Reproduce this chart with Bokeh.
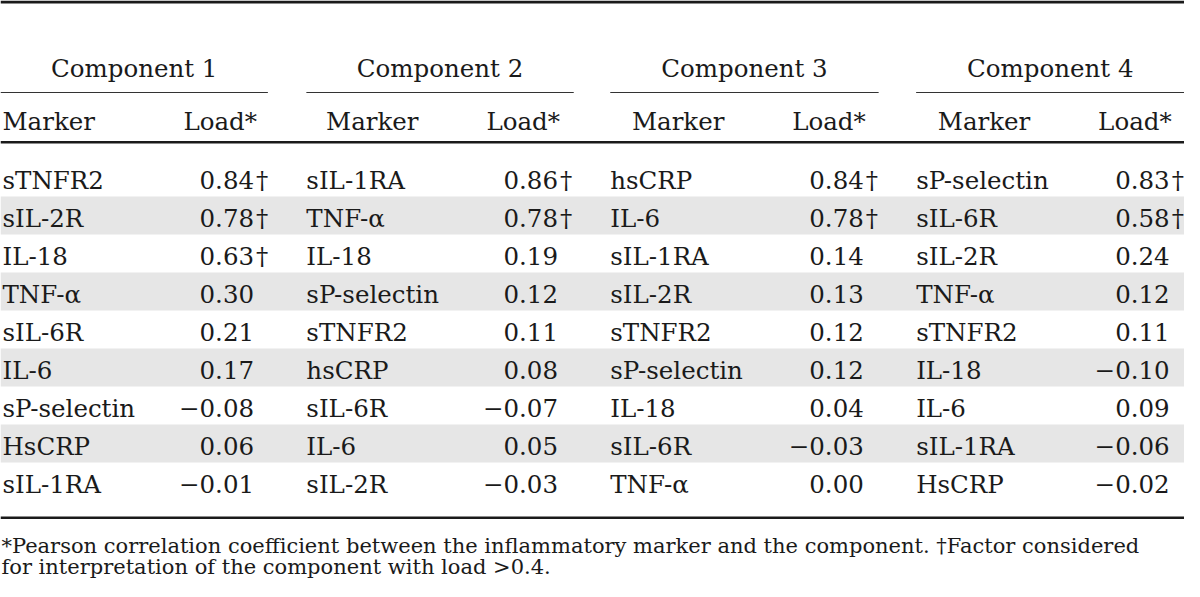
from bokeh.plotting import figure
from bokeh.models import Range1d, ColumnDataSource
from bokeh.core.properties import value
from bokeh.embed import file_html
from bokeh.resources import INLINE

# ---------------- data ----------------
components = ["Component 1", "Component 2", "Component 3", "Component 4"]
col_headers = ["Marker", "Load*"]

markers_1 = ["sTNFR2", "sIL-2R", "IL-18", "TNF-α", "sIL-6R", "IL-6", "sP-selectin", "HsCRP", "sIL-1RA"]
loads_1 = [0.84, 0.78, 0.63, 0.30, 0.21, 0.17, -0.08, 0.06, -0.01]
flag_1 = [True, True, True, False, False, False, False, False, False]

markers_2 = ["sIL-1RA", "TNF-α", "IL-18", "sP-selectin", "sTNFR2", "hsCRP", "sIL-6R", "IL-6", "sIL-2R"]
loads_2 = [0.86, 0.78, 0.19, 0.12, 0.11, 0.08, -0.07, 0.05, -0.03]
flag_2 = [True, True, False, False, False, False, False, False, False]

markers_3 = ["hsCRP", "IL-6", "sIL-1RA", "sIL-2R", "sTNFR2", "sP-selectin", "IL-18", "sIL-6R", "TNF-α"]
loads_3 = [0.84, 0.78, 0.14, 0.13, 0.12, 0.12, 0.04, -0.03, 0.00]
flag_3 = [True, True, False, False, False, False, False, False, False]

markers_4 = ["sP-selectin", "sIL-6R", "sIL-2R", "TNF-α", "sTNFR2", "IL-18", "IL-6", "sIL-1RA", "HsCRP"]
loads_4 = [0.83, 0.58, 0.24, 0.12, 0.11, -0.10, 0.09, -0.06, -0.02]
flag_4 = [True, True, False, False, False, False, False, False, False]

footnote_1 = "*Pearson correlation coefficient between the inflammatory marker and the component. \u2020Factor considered"
footnote_2 = "for interpretation of the component with load >0.4."

# ---------------- layout ----------------
W, H = 1200, 581
FONT = value("DejaVu Serif")
INK = "#1a1a1a"
FS = "24.5px"
FS_NOTE = "21px"

marker_x = [2, 310, 618, 928]
header_marker_x = [2, 330, 640, 950]
load_right = [257, 565, 875, 1185]
header_load_right = [260, 567, 877, 1187]
span = [(0, 271), (310, 581), (618, 890), (928, 1200)]

row_center0 = 177
pitch = 38

p = figure(width=1184, height=581, output_backend="svg", toolbar_location=None,
           x_range=Range1d(0, W), y_range=Range1d(H, 0),
           min_border=0, min_border_left=0, min_border_right=0,
           min_border_top=0, min_border_bottom=0)
p.axis.visible = False
p.grid.visible = False
p.outline_line_color = None
p.background_fill_color = "white"
p.border_fill_color = "white"

n_rows = len(markers_1)
centers = [row_center0 + pitch * i for i in range(n_rows)]

# shaded bands (even rows)
band_idx = [i for i in range(n_rows) if i % 2 == 1]
p.quad(left=[0] * len(band_idx), right=[W] * len(band_idx),
       top=[centers[i] - pitch / 2 for i in band_idx],
       bottom=[centers[i] + pitch / 2 for i in band_idx],
       fill_color="#e6e6e6", line_color=None)

# rules
p.quad(left=[0, 0, 0], right=[W, W, W], top=[0, 140.5, 516], bottom=[3, 143, 518.5],
       fill_color=INK, line_color=None)
p.segment(x0=[s[0] for s in span], x1=[s[1] for s in span], y0=[92] * 4, y1=[92] * 4,
          line_color="#333333", line_width=1.2)

# component headers
p.text(x=[(s[0] + s[1]) / 2 for s in span], y=[68] * 4, text=components,
       text_font=FONT, text_font_size=FS, text_align="center",
       text_baseline="alphabetic", text_color=INK)
# column headers
p.text(x=header_marker_x, y=[121] * 4, text=[col_headers[0]] * 4,
       text_font=FONT, text_font_size=FS, text_align="left",
       text_baseline="alphabetic", text_color=INK)
p.text(x=header_load_right, y=[121] * 4, text=[col_headers[1]] * 4,
       text_font=FONT, text_font_size=FS, text_align="right",
       text_baseline="alphabetic", text_color=INK)


def fmt(v):
    s = f"{abs(v):.2f}"
    return ("\u2212" + s) if v < 0 else s


all_markers = [markers_1, markers_2, markers_3, markers_4]
all_loads = [loads_1, loads_2, loads_3, loads_4]
all_flags = [flag_1, flag_2, flag_3, flag_4]

for c in range(4):
    ys = [cy + 2.5 for cy in centers]
    src_m = ColumnDataSource(dict(x=[marker_x[c]] * n_rows, y=ys, t=all_markers[c]))
    p.text(x="x", y="y", text="t", source=src_m, text_font=FONT, text_font_size=FS,
           text_align="left", text_baseline="alphabetic", text_color=INK)
    src_l = ColumnDataSource(dict(x=[load_right[c]] * n_rows, y=ys,
                                  t=[fmt(v) for v in all_loads[c]]))
    p.text(x="x", y="y", text="t", source=src_l, text_font=FONT, text_font_size=FS,
           text_align="right", text_baseline="alphabetic", text_color=INK)
    dy = [ys[i] for i in range(n_rows) if all_flags[c][i]]
    p.text(x=[load_right[c] + 2] * len(dy), y=dy, text=["\u2020"] * len(dy),
           text_font=FONT, text_font_size=FS, text_align="left",
           text_baseline="alphabetic", text_color=INK)

# footnotes
p.text(x=[1, 1], y=[545, 566], text=[footnote_1, footnote_2], text_font=FONT,
       text_font_size=FS_NOTE, text_align="left", text_baseline="alphabetic",
       text_color=INK)

open("out.html", "w").write(file_html(p, INLINE))
